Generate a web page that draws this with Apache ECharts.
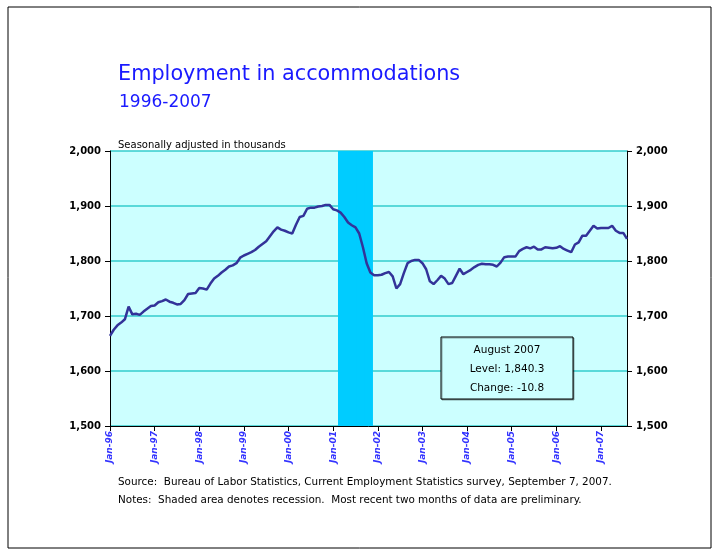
<!DOCTYPE html>
<html>
<head>
<meta charset="utf-8">
<script src="https://cdn.jsdelivr.net/npm/echarts@6/dist/echarts.min.js"></script>
<style>
  html, body { margin: 0; padding: 0; background: #fff; }
  #main { width: 719px; height: 550px; }
</style>
</head>
<body>
<div id="main"></div>
<script>
// months Jan-96 .. Aug-07
const monthNames = ['Jan','Feb','Mar','Apr','May','Jun','Jul','Aug','Sep','Oct','Nov','Dec'];
const yearCodes = ['96','97','98','99','00','01','02','03','04','05','06','07'];
const categories = [];
yearCodes.forEach(y => monthNames.forEach(m => categories.push(m + '-' + y)));
categories.length = 140;

// employment in accommodations, thousands, seasonally adjusted
const employment = [
  1664, 1675, 1683, 1688, 1694, 1717, 1703, 1704, 1702, 1708, 1713, 1718,
  1719, 1725, 1727, 1730, 1726, 1724, 1721, 1722, 1729, 1740, 1741, 1742,
  1751, 1750, 1748, 1759, 1768, 1773, 1779, 1784, 1790, 1792, 1796, 1806,
  1810, 1813, 1816, 1820, 1826, 1831, 1836, 1845, 1854, 1861, 1857, 1855,
  1852, 1850, 1866, 1880, 1882, 1895, 1897, 1897, 1899, 1900, 1902, 1902,
  1894, 1892, 1888, 1880, 1870, 1865, 1861, 1850, 1825, 1796, 1779, 1774,
  1774, 1775, 1778, 1780, 1772, 1750, 1758, 1778, 1796, 1800, 1802, 1802,
  1796, 1785, 1763, 1758, 1765, 1773, 1768, 1758, 1760, 1773, 1786, 1776,
  1780, 1784, 1789, 1793, 1795, 1794, 1794, 1793, 1790, 1797, 1807, 1808,
  1808, 1808, 1818, 1822, 1825, 1823, 1826, 1821, 1821, 1825, 1824, 1823,
  1824, 1827, 1822, 1819, 1816, 1830, 1834, 1846, 1846, 1855, 1864, 1859,
  1860, 1860, 1860, 1864, 1855, 1851, 1851.1, 1840.3
];

// recession months (shaded)
const recessionMonths = ['Mar-01','Apr-01','May-01','Jun-01','Jul-01','Aug-01','Sep-01','Oct-01','Nov-01'];

const yMin = 1500, yMax = 2000, yStep = 100;

const FONT = 'DejaVu Sans';
const fmt = v => Number(v).toLocaleString('en-US');

const lastIdx = employment.length - 1;
const level = employment[lastIdx];
const change = employment[lastIdx] - employment[lastIdx - 1];

const myChart = echarts.init(document.getElementById('main'));

const option = {
  backgroundColor: '#ffffff',
  animation: false,
  title: [
    {
      text: 'Employment in accommodations',
      left: 113, top: 59,
      textStyle: { fontFamily: FONT, fontSize: 20.8, fontWeight: 'normal', color: '#1a1aff' }
    },
    {
      text: '1996-2007',
      left: 114, top: 89,
      textStyle: { fontFamily: FONT, fontSize: 17, fontWeight: 'normal', color: '#1a1aff' }
    },
    {
      text: 'Seasonally adjusted in thousands',
      left: 113, top: 135,
      textStyle: { fontFamily: FONT, fontSize: 10, fontWeight: 'normal', color: '#000' }
    },
    {
      text: 'Source:  Bureau of Labor Statistics, Current Employment Statistics survey, September 7, 2007.',
      left: 113, top: 472,
      textStyle: { fontFamily: FONT, fontSize: 10.4, fontWeight: 'normal', color: '#000' }
    },
    {
      text: 'Notes:  Shaded area denotes recession.  Most recent two months of data are preliminary.',
      left: 113, top: 490,
      textStyle: { fontFamily: FONT, fontSize: 10.4, fontWeight: 'normal', color: '#000' }
    }
  ],
  grid: {
    left: 110, right: 92, top: 151, bottom: 124,
    show: true, backgroundColor: '#CCFFFF', borderWidth: 0,
    containLabel: false
  },
  xAxis: {
    type: 'category',
    data: categories,
    boundaryGap: false,
    axisLine: { lineStyle: { color: '#000', width: 1 } },
    axisTick: { show: true, length: 5, interval: i => i % 12 === 0, lineStyle: { color: '#000' } },
    axisLabel: {
      interval: i => i % 12 === 0,
      rotate: 90, margin: 5,
      fontFamily: FONT, fontSize: 9, fontWeight: 'bold', fontStyle: 'italic', color: '#3333ff'
    },
    splitLine: { show: false }
  },
  yAxis: [
    {
      type: 'value', min: yMin, max: yMax, interval: yStep, position: 'left',
      axisLine: { show: true, lineStyle: { color: '#000', width: 1 } },
      axisTick: { show: true, length: 5, lineStyle: { color: '#000' } },
      axisLabel: { formatter: fmt, fontFamily: FONT, fontSize: 10, fontWeight: 'bold', color: '#000', margin: 9 },
      splitLine: { show: true, lineStyle: { color: '#33CCCC', width: 1.5 } }
    },
    {
      type: 'value', min: yMin, max: yMax, interval: yStep, position: 'right',
      axisLine: { show: true, lineStyle: { color: '#000', width: 1 } },
      axisTick: { show: true, length: 5, lineStyle: { color: '#000' } },
      axisLabel: { formatter: fmt, fontFamily: FONT, fontSize: 10, fontWeight: 'bold', color: '#000', margin: 9 },
      splitLine: { show: false }
    }
  ],
  series: [
    {
      name: 'Recession',
      type: 'bar',
      data: categories.map(c => recessionMonths.includes(c) ? yMax : null),
      barWidth: '140%',
      barMaxWidth: 10,
      itemStyle: { color: '#00CCFF', opacity: 1 },
      clip: true,
      silent: true,
      large: false,
      z: 1
    },
    {
      name: 'Employment',
      type: 'line',
      data: employment,
      symbol: 'none',
      lineStyle: { color: '#333399', width: 2.5 },
      z: 3
    }
  ],
  graphic: [
    {
      type: 'rect',
      shape: { x: 8, y: 7, width: 703, height: 541 },
      style: { fill: 'none', stroke: '#000', lineWidth: 1 },
      z: 100, silent: true
    },
    {
      type: 'rect', z: 100,
      shape: { x: 441, y: 337, width: 132, height: 62 },
      style: { fill: '#CCFFFF', stroke: '#000', lineWidth: 1, shadowColor: 'rgba(0,0,0,0.35)', shadowOffsetX: 1, shadowOffsetY: 1 }
    },
    {
      type: 'text', z: 101, x: 507, y: 350,
      style: { text: 'August 2007', fontFamily: FONT, fontSize: 10.5, fill: '#000', align: 'center', verticalAlign: 'middle' }
    },
    {
      type: 'text', z: 101, x: 507, y: 369,
      style: { text: 'Level: ' + level.toLocaleString('en-US', { minimumFractionDigits: 1 }), fontFamily: FONT, fontSize: 10.5, fill: '#000', align: 'center', verticalAlign: 'middle' }
    },
    {
      type: 'text', z: 101, x: 507, y: 388,
      style: { text: 'Change: ' + change.toFixed(1), fontFamily: FONT, fontSize: 10.5, fill: '#000', align: 'center', verticalAlign: 'middle' }
    }
  ]
};

myChart.setOption(option);
</script>
</body>
</html>
